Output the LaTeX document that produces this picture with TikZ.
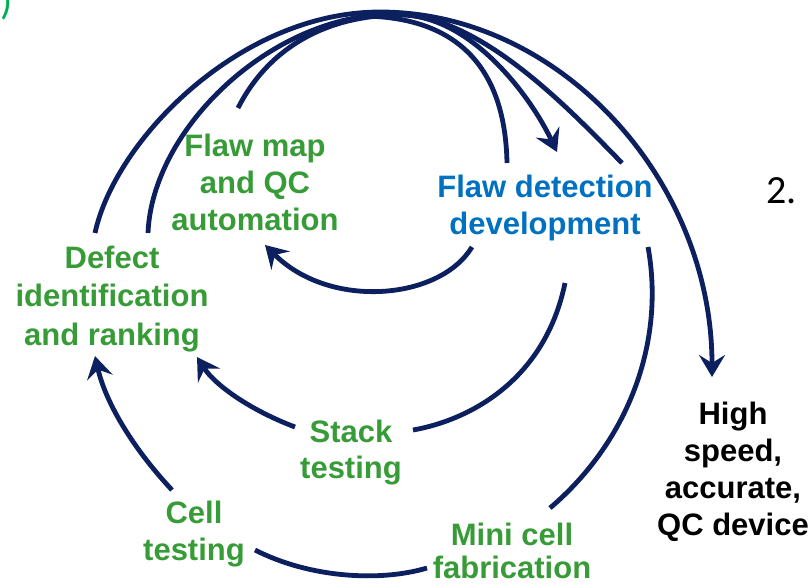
\documentclass[tikz,border=0pt]{standalone}
\usepackage{fontspec}
\setmainfont{Liberation Sans}
\newfontfamily\carl{Carlito}
\usetikzlibrary{arrows.meta}
\definecolor{navy}{RGB}{12,31,94}
\definecolor{grn}{RGB}{55,155,55}
\definecolor{fblue}{RGB}{0,112,192}
\definecolor{parg}{RGB}{0,176,80}
\tikzset{
  lbl/.style={font=\bfseries\fontsize{31}{37}\selectfont, text=grn, align=center, inner sep=0pt, anchor=base},
  arc/.style={draw=navy, line width=4.8pt},
  tipped/.style={-{Stealth[length=22pt,width=26pt,inset=8pt]}}
}
\begin{document}
\begin{tikzpicture}[x=1pt,y=-1pt]
\useasboundingbox (0,0) rectangle (810,584);
% labels (anchor = baseline of the last line)
\node[lbl] (flawmap) at (255,230) {Flaw map\\and QC\\automation};
\node[lbl, text=fblue] (flawdet) at (545,234) {Flaw detection\\development};
\node[lbl, font=\bfseries\fontsize{31}{38.5}\selectfont] (defect) at (112,345) {Defect\\identification\\and ranking};
\node[lbl, font=\bfseries\fontsize{31}{36}\selectfont] (stack) at (351,478) {Stack\\testing};
\node[lbl] (cell) at (194,560) {Cell\\testing};
\node[lbl, font=\bfseries\fontsize{31}{33}\selectfont] (mini) at (512,578) {Mini cell\\fabrication};
\node[lbl, text=black] (qc) at (733,535) {High\\speed,\\accurate,\\QC device};
\node[font=\carl\fontsize{40}{40}\selectfont, anchor=base west, inner sep=0pt] (two) at (766,203) {2.};
\node[font=\carl\fontsize{40}{40}\selectfont, text=parg, anchor=base east, inner sep=0pt] (paren) at (13,14) {)};
% connector ends
\coordinate (a0) at (95,233);
\coordinate (a1) at (712,377);
\coordinate (b0) at (148,233);
\coordinate (b1) at (622,163);
\coordinate (c0) at (238,108);
\coordinate (c1) at (557,152);
\coordinate (d0) at (360,16);
\coordinate (d1) at (507,163);
\coordinate (e0) at (472,247);
\coordinate (e1) at (265,245);
\coordinate (f0) at (565,283);
\coordinate (f1) at (413,430);
\coordinate (g0) at (295,427);
\coordinate (g1) at (197,357);
\coordinate (h0) at (172,490);
\coordinate (h1) at (95,356);
\coordinate (i0) at (648,247);
\coordinate (i1) at (550,508);
\coordinate (j0) at (255,550);
\coordinate (j1) at (427,568);
% arcs over the top
\draw[arc,tipped] (a0) .. controls (115,140) and (240,12) .. (380,12) .. controls (560,12) and (712,180) .. (a1);
\draw[arc] (b0) .. controls (152,130) and (270,14) .. (395,14) .. controls (480,14) and (570,110) .. (b1);
\draw[arc,tipped] (c0) .. controls (270,45) and (330,15) .. (400,15) .. controls (470,15) and (530,95) .. (c1);
\draw[arc] (d0) .. controls (450,16) and (505,60) .. (d1);
% inner loops
\draw[arc,tipped] (e0) .. controls (440,300) and (330,310) .. (e1);
\draw[arc] (f0) .. controls (545,380) and (470,420) .. (f1);
\draw[arc,tipped] (g0) .. controls (250,410) and (215,385) .. (g1);
\draw[arc,tipped] (h0) .. controls (130,445) and (105,400) .. (h1);
\draw[arc] (i0) .. controls (665,340) and (630,440) .. (i1);
\draw[arc] (j0) .. controls (310,578) and (380,582) .. (j1);
\end{tikzpicture}
\end{document}
